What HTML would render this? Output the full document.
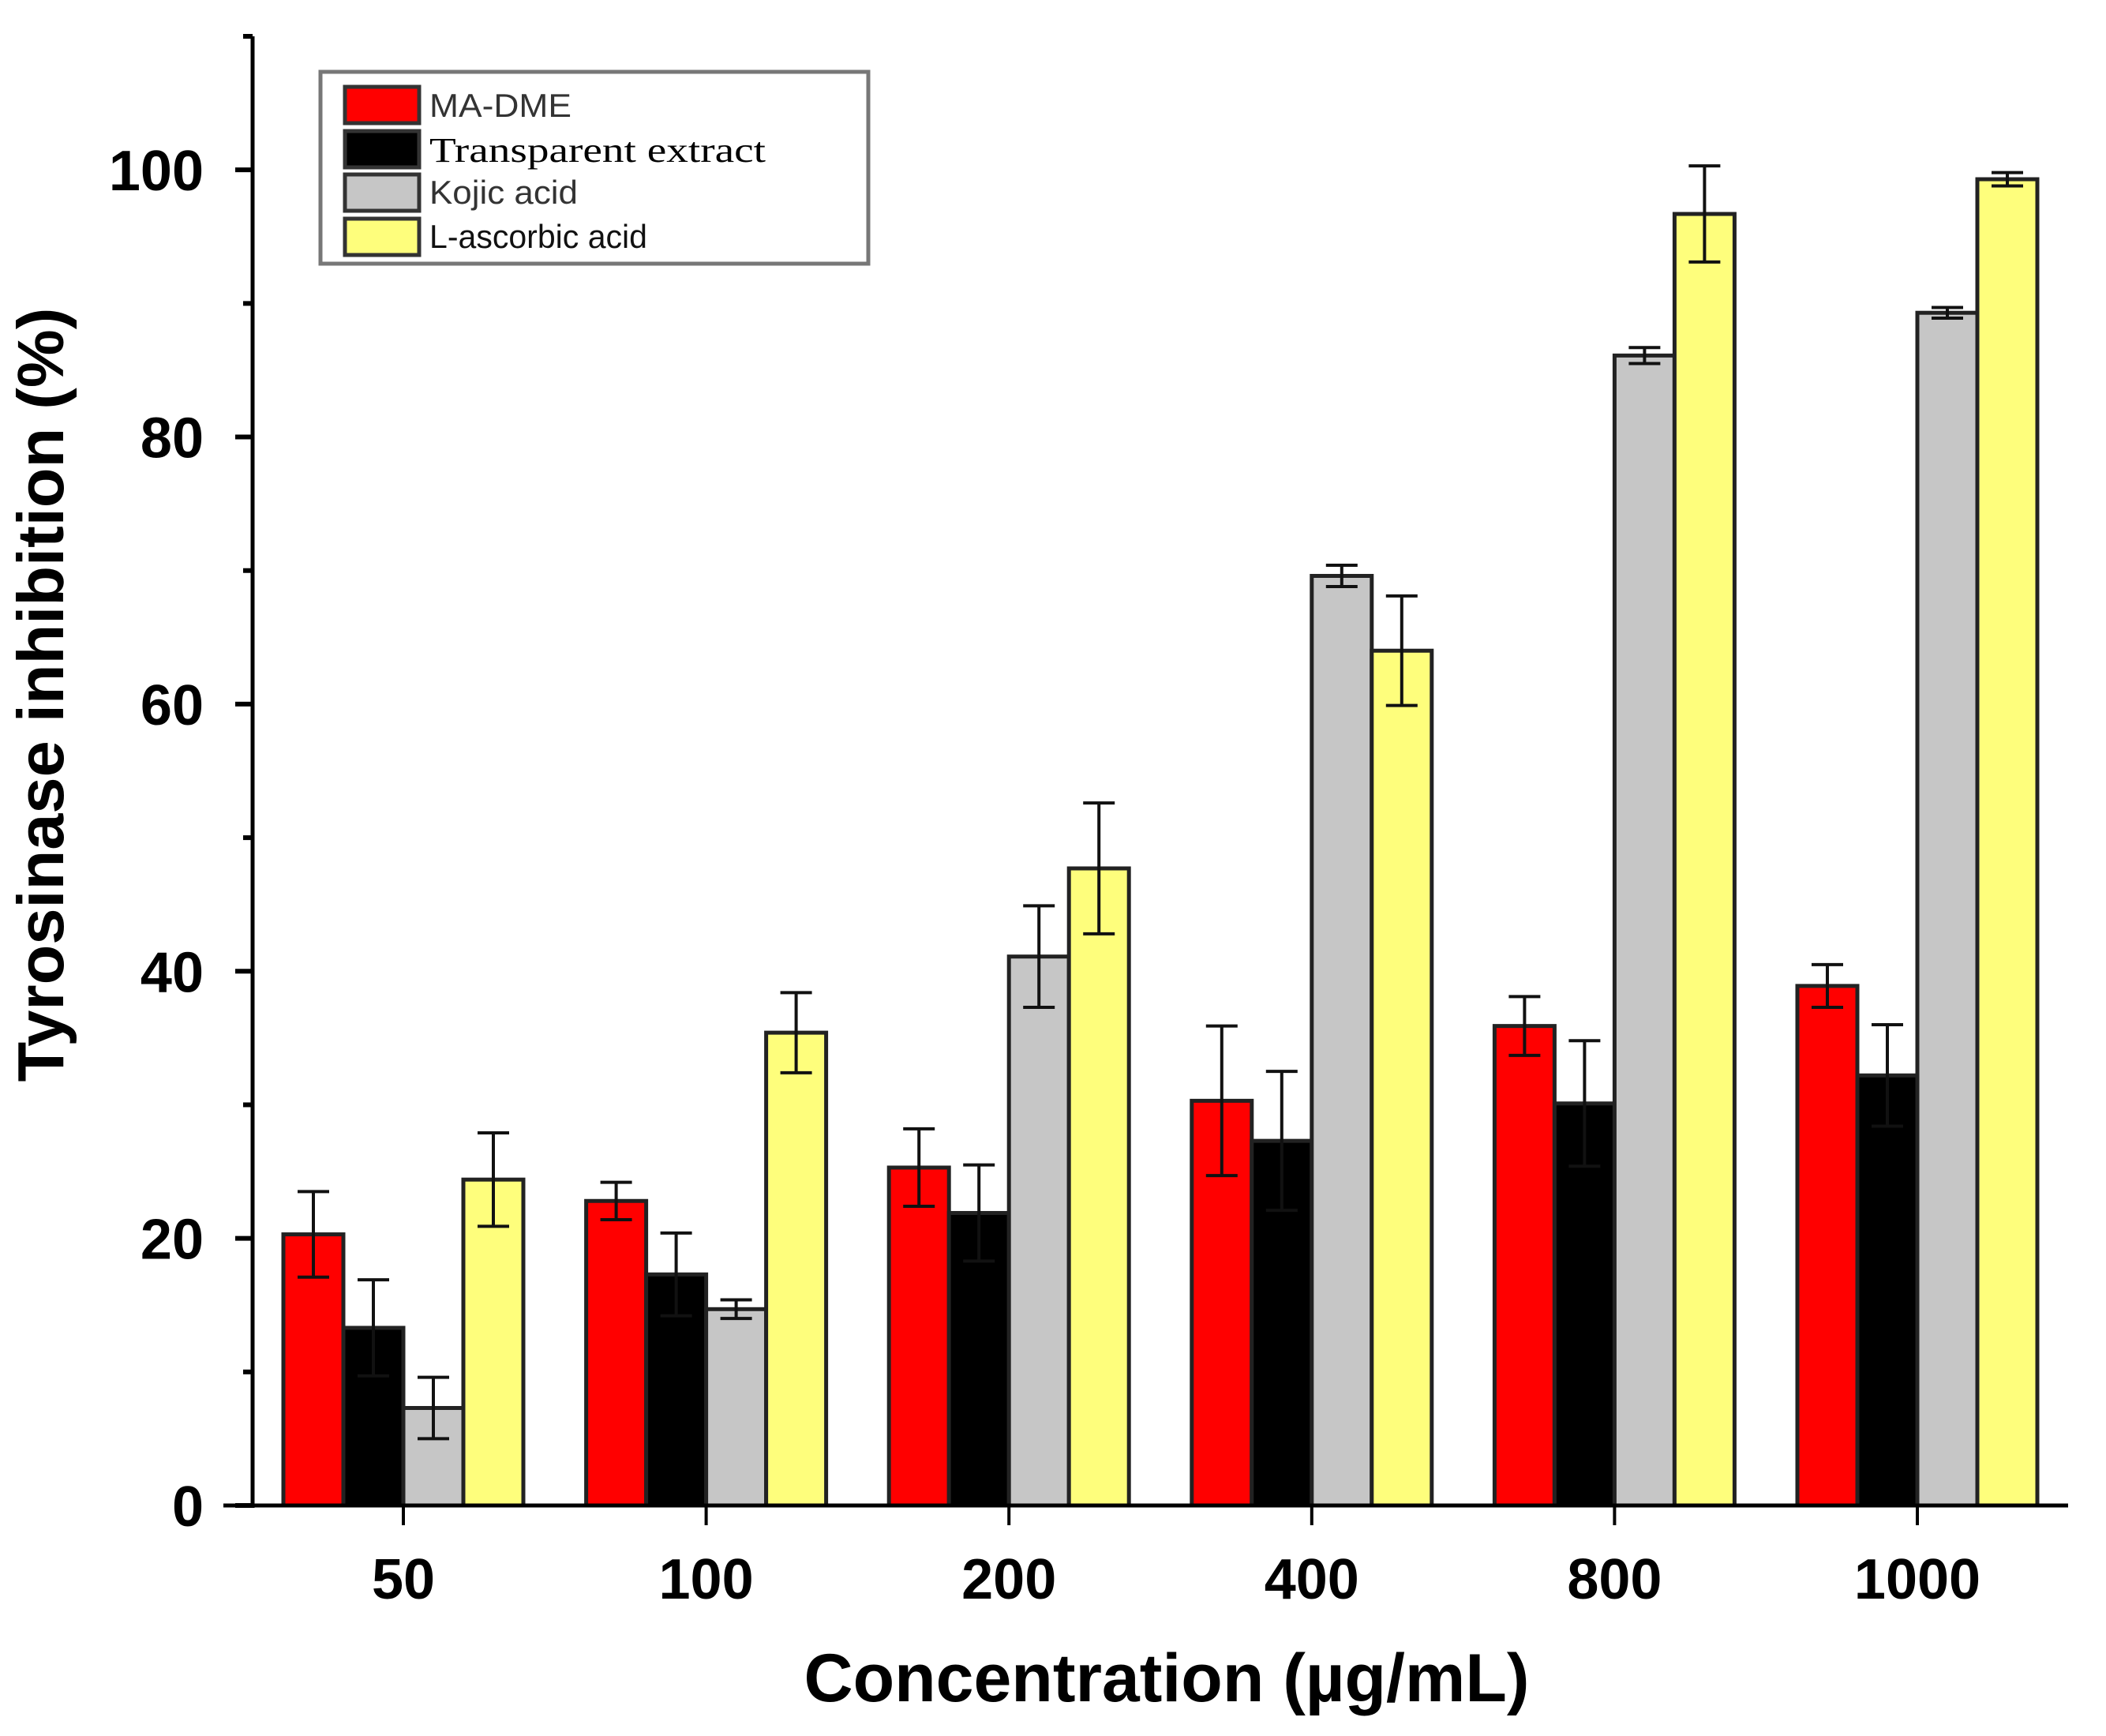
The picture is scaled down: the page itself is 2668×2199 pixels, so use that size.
<!DOCTYPE html>
<html><head><meta charset="utf-8"><style>
html,body{margin:0;padding:0;background:#fff;}
svg{display:block;}
</style></head><body>
<svg id="chart" xmlns="http://www.w3.org/2000/svg" width="2668" height="2199" viewBox="0 0 2668 2199">
<g id="plot"></g>
</svg>
<script>
const categories = ["50","100","200","400","800","1000"];
const seriesNames = ["MA-DME","Transparent extract","Kojic acid","L-ascorbic acid"];
const maDme = [20.3,22.8,25.3,30.3,35.9,38.9];
const maDmeErr = [3.2,1.4,2.9,5.6,2.2,1.6];
const transparent = [13.3,17.3,21.9,27.3,30.1,32.2];
const transparentErr = [3.6,3.1,3.6,5.2,4.7,3.8];
const kojic = [7.3,14.7,41.1,69.6,86.1,89.3];
const kojicErr = [2.3,0.7,3.8,0.8,0.6,0.4];
const ascorbic = [24.4,35.4,47.7,64.0,96.7,99.3];
const ascorbicErr = [3.5,3.0,4.9,4.1,3.6,0.5];
const yTicks = [0,20,40,60,80,100];

const NS="http://www.w3.org/2000/svg";
const g=document.getElementById('plot');
function el(tag,attrs,parent){const e=document.createElementNS(NS,tag);for(const k in attrs)e.setAttribute(k,attrs[k]);(parent||g).appendChild(e);return e;}
const x0=320,y0=1907,yTop=46,yMax=110;
function y(v){return y0-(v/yMax)*(y0-yTop);}
const groupStart=511,groupStep=383.6,barW=76;
function xc(i){return groupStart+i*groupStep;}

const series=[
 {vals:maDme,err:maDmeErr,fill:"#ff0000",name:"ma-dme"},
 {vals:transparent,err:transparentErr,fill:"#000000",name:"transparent-extract"},
 {vals:kojic,err:kojicErr,fill:"#c6c6c6",name:"kojic-acid"},
 {vals:ascorbic,err:ascorbicErr,fill:"#fefe7c",name:"l-ascorbic-acid"}];

series.forEach((s,si)=>{
 s.vals.forEach((v,i)=>{
  const bx=xc(i)-2*barW+si*barW;
  const r=el('rect',{x:bx,y:y(v),width:barW,height:y0-y(v),fill:s.fill,stroke:"#222",'stroke-width':5});
  
  
  const cx=bx+barW/2,hi=y(v+s.err[i]),lo=y(v-s.err[i]);
  const eb=el('path',{d:`M${cx},${hi}V${lo}M${cx-20},${hi}H${cx+20}M${cx-20},${lo}H${cx+20}`,stroke:"#111",'stroke-width':4,fill:"none"});
  
  
 });
});

const ya=el('line',{x1:x0,y1:yTop,x2:x0,y2:y0+3,stroke:"#000",'stroke-width':5});


const xa=el('line',{x1:283,y1:y0,x2:2620,y2:y0,stroke:"#000",'stroke-width':5});


for(let v=0;v<=110;v+=10){
 const major=v%20===0;
 el('line',{x1:x0-(major?22:12),y1:y(v),x2:x0,y2:y(v),stroke:"#000",'stroke-width':6});
}
yTicks.forEach(v=>{
 const t=el('text',{x:258,y:y(v)+26,'text-anchor':'end','font-family':'Liberation Sans, sans-serif','font-weight':'bold','font-size':72,fill:'#000'});
 t.textContent=v;
 
 
});
categories.forEach((c,i)=>{
 el('line',{x1:xc(i),y1:y0,x2:xc(i),y2:y0+25,stroke:"#000",'stroke-width':4});
 const t=el('text',{x:xc(i),y:2025,'text-anchor':'middle','font-family':'Liberation Sans, sans-serif','font-weight':'bold','font-size':72,fill:'#000'});
 t.textContent=c;
 
 
});
</script>
<svg style="position:absolute;left:0;top:0" width="2668" height="2199">
<text x="1478" y="2155" text-anchor="middle" font-family="Liberation Sans, sans-serif" font-weight="bold" font-size="86">Concentration (µg/mL)</text>
<text transform="translate(80,880) rotate(-90)" text-anchor="middle" font-family="Liberation Sans, sans-serif" font-weight="bold" font-size="83">Tyrosinase inhibition (%)</text>
<g>
<rect x="406" y="91" width="694" height="243" fill="#fff" stroke="#777" stroke-width="5"/>
<g>
<rect x="437" y="110" width="94" height="46" fill="#ff0000" stroke="#333" stroke-width="5"/>
<text x="544" y="148" font-family="Liberation Sans, sans-serif" font-size="42" fill="#333" textLength="180" lengthAdjust="spacingAndGlyphs">MA-DME</text></g>
<g>
<rect x="437" y="166" width="94" height="46" fill="#000" stroke="#333" stroke-width="5"/>
<text x="544" y="205" font-family="Liberation Serif, serif" font-size="44" fill="#000" textLength="426" lengthAdjust="spacingAndGlyphs">Transparent extract</text></g>
<g>
<rect x="437" y="221" width="94" height="46" fill="#c6c6c6" stroke="#333" stroke-width="5"/>
<text x="544" y="258" font-family="Liberation Sans, sans-serif" font-size="42" fill="#333" textLength="188" lengthAdjust="spacingAndGlyphs">Kojic acid</text></g>
<g>
<rect x="437" y="277" width="94" height="46" fill="#fefe7c" stroke="#333" stroke-width="5"/>
<text x="544" y="314" font-family="Liberation Sans, sans-serif" font-size="42" fill="#111" textLength="276" lengthAdjust="spacingAndGlyphs">L-ascorbic acid</text></g>
</g>
</svg>
</body></html>
